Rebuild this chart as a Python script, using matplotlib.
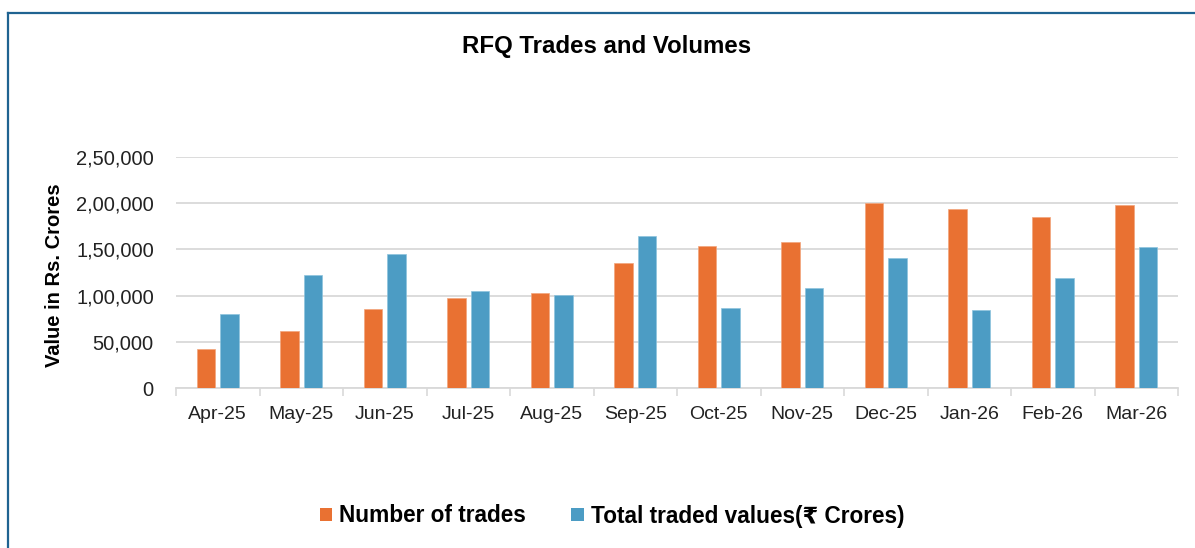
import matplotlib
matplotlib.use("Agg")
import matplotlib.pyplot as plt
from matplotlib.lines import Line2D
from matplotlib.patches import Patch
from matplotlib.ticker import FuncFormatter, FixedLocator
import numpy as np

months = ["Apr-25", "May-25", "Jun-25", "Jul-25", "Aug-25", "Sep-25",
          "Oct-25", "Nov-25", "Dec-25", "Jan-26", "Feb-26", "Mar-26"]
num_trades = [42500, 62000, 85800, 97500, 103000, 135500,
              154000, 157800, 200500, 193300, 184700, 197600]
traded_values = [80200, 122500, 145000, 105000, 100800, 164800,
                 87000, 108300, 141000, 84600, 119400, 152600]
yticks = [0, 50000, 100000, 150000, 200000, 250000]

ORANGE = "#E97132"
BLUE = "#4C9CC4"


def indian(v, pos=None):
    v = int(round(v))
    s = str(abs(v))
    if len(s) > 3:
        head, tail = s[:-3], s[-3:]
        parts = []
        while len(head) > 2:
            parts.insert(0, head[-2:])
            head = head[:-2]
        if head:
            parts.insert(0, head)
        s = ",".join(parts) + "," + tail
    return s


W, H = 1195, 548
fig = plt.figure(figsize=(W / 100, H / 100), dpi=100)
fig.patch.set_facecolor("white")

ax = fig.add_axes([176 / W, 1 - 388 / H, (1178 - 176) / W, (388 - 157) / H])
x = np.arange(len(months))
bw = 0.22
ax.bar(x - 0.14, num_trades, width=bw, color=ORANGE, edgecolor="#F2A57C",
       linewidth=0.5, zorder=3)
ax.bar(x + 0.14, traded_values, width=bw, color=BLUE, edgecolor="#8DC3DD",
       linewidth=0.5, zorder=3)

ax.set_xlim(-0.5, len(months) - 0.5)
ax.set_ylim(0, 250000)
ax.set_yticks(yticks)
ax.yaxis.set_major_formatter(FuncFormatter(indian))
ax.set_xticks(x)
ax.set_xticklabels(months)
ax.xaxis.set_minor_locator(FixedLocator(np.arange(-0.5, len(months), 1.0)))
ax.tick_params(axis="x", which="major", length=0, pad=13, labelsize=14,
               labelcolor="#222222")
ax.tick_params(axis="x", which="minor", length=6, color="#D9D9D9", width=1.2)
ax.tick_params(axis="y", length=0, pad=16, labelsize=14.5, labelcolor="#222222")
for lab in ax.get_xticklabels() + ax.get_yticklabels():
    lab.set_fontfamily("Liberation Sans")

ax.grid(axis="y", color="#D9D9D9", linewidth=1.3, zorder=0)
ax.set_axisbelow(True)
for s in ["top", "right", "left"]:
    ax.spines[s].set_visible(False)
ax.spines["bottom"].set_color("#D9D9D9")
ax.spines["bottom"].set_linewidth(1.3)

fig.text(55 / W, 1 - 275 / H, "Value in Rs. Crores", rotation=90,
         ha="center", va="center", fontsize=14.5, fontweight="bold",
         family="Liberation Sans", color="black")

fig.text(607 / W, 1 - 47 / H, "RFQ Trades and Volumes", ha="center",
         va="center", fontsize=17.3, fontweight="bold",
         family="Liberation Sans", color="black")

handles = [Patch(facecolor=ORANGE, edgecolor="none"),
           Patch(facecolor=BLUE, edgecolor="none")]
leg = fig.legend(handles, ["Number of trades", "Total traded values(₹ Crores)"],
                 loc="center", bbox_to_anchor=(612 / W, 1 - 516 / H), ncol=2,
                 frameon=False, handlelength=0.55, handleheight=0.55,
                 handletextpad=0.3, columnspacing=2.0,
                 prop={"family": ["Liberation Sans", "DejaVu Sans"],
                       "weight": "bold", "size": 16.3})

# figure border (top and left)
c = "#1F6391"
fig.add_artist(Line2D([8 / W, 8 / W], [0, 1 - 12.5 / H], transform=fig.transFigure,
                      color=c, linewidth=1.6))
fig.add_artist(Line2D([8 / W, 1], [1 - 12.5 / H, 1 - 12.5 / H],
                      transform=fig.transFigure, color=c, linewidth=1.6))

fig.savefig("out.png", dpi=100, facecolor="white")
